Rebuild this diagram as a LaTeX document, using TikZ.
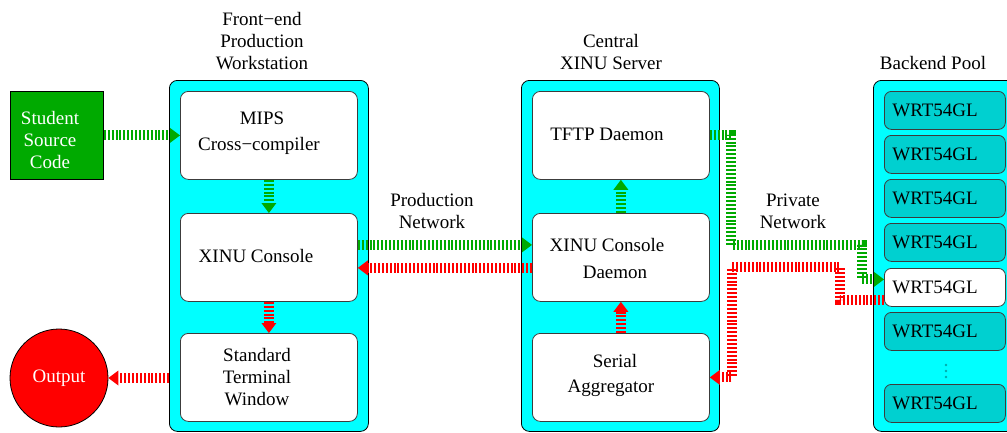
\documentclass[tikz,border=0pt]{standalone}
\usepackage{fontspec}
\setmainfont{Liberation Serif}
\usetikzlibrary{arrows.meta,calc}
\definecolor{fgreen}{RGB}{0,170,0}
\definecolor{brightcyan}{RGB}{0,255,255}
\definecolor{wrtcyan}{RGB}{0,208,208}
\definecolor{dotcyan}{RGB}{0,170,170}
\definecolor{boxedge}{RGB}{60,60,60}
\definecolor{pured}{RGB}{255,0,0}
\begin{document}
\begin{tikzpicture}[x=1pt,y=-1pt,
  container/.style={draw=black, line width=0.8pt, fill=brightcyan, rounded corners=8pt, anchor=north west, inner sep=0pt},
  inbox/.style={draw=boxedge, line width=0.8pt, fill=white, rounded corners=8pt, anchor=north west, inner sep=0pt, minimum width=177pt, minimum height=88pt},
  wrt/.style={draw=boxedge, line width=0.8pt, fill=wrtcyan, rounded corners=7pt, anchor=north west, minimum height=38pt, text width=105pt, inner xsep=8pt, inner ysep=0pt, align=left, font=\fontsize{19}{22}\selectfont},
  lbl/.style={font=\fontsize{19}{22}\selectfont, align=center, inner sep=0pt},
  flow/.style={line width=10pt, dash pattern=on 2pt off 1.9pt, -{Triangle[length=10pt,width=15pt,line width=0pt]}},
  gflow/.style={flow, draw=fgreen},
  rflow/.style={flow, draw=pured}]
\useasboundingbox (0,0) rectangle (1007,432);
\clip (0,0) rectangle (1007,432);

% containers
\node[container, minimum width=199pt, minimum height=351pt] (lc) at (169,80) {};
\node[container, minimum width=198pt, minimum height=351pt] (mc) at (521,80) {};
\node[container, minimum width=150pt, minimum height=351pt] (rc) at (873,80) {};

% left inner boxes
\node[inbox] (mips) at (180,91) {};
\node[inbox] (xcon) at (180,213) {};
\node[inbox] (term) at (180,333) {};
% middle inner boxes
\node[inbox] (tftp) at (532,91) {};
\node[inbox] (daemon) at (532,213) {};
\node[inbox] (serial) at (532,333) {};

% backend pool
\node[wrt] (w1) at (884,91) {WRT54GL};
\node[wrt] (w2) at (884,135) {WRT54GL};
\node[wrt] (w3) at (884,179) {WRT54GL};
\node[wrt] (w4) at (884,223) {WRT54GL};
\node[wrt, fill=white] (ww) at (884,268) {WRT54GL};
\node[wrt] (w6) at (884,312) {WRT54GL};
\node[wrt] (w7) at (884,384) {WRT54GL};
\fill[dotcyan] (946,365) circle (1.4) (946,371) circle (1.4) (946,377) circle (1.4);

% student and output
\node[draw=black, line width=0.8pt, fill=fgreen, anchor=north west, minimum width=93pt, minimum height=88pt, inner sep=0pt] (student) at (10,91) {};
\node[lbl, text=white] (studentT) at (50,140) {Student\\Source\\Code};
\node[draw=black, line width=0.8pt, fill=pured, circle, minimum size=98pt, inner sep=0pt, text=white, font=\fontsize{19}{22}\selectfont] (output) at (59,378) {Output};

% titles
\node[lbl] (t1) at (262,41) {Front−end\\Production\\Workstation};
\node[lbl] (t2) at (611,52) {Central\\XINU Server};
\node[lbl] (t3) at (933,63) {Backend Pool};
\node[lbl] (t4) at (432,211) {Production\\Network};
\node[lbl] (t5) at (793,211) {Private\\Network};

% box texts
\node[lbl] (mipsA) at (262,118) {MIPS};
\node[lbl] (mipsB) at (259,146) {Cross−compiler};
\node[lbl] (xconT) at (256,256) {XINU Console};
\node[lbl] (termT) at (257,377) {Standard\\Terminal\\Window};
\node[lbl] (tftpT) at (607,134) {TFTP Daemon};
\node[lbl] (daemonA) at (607,245) {XINU Console};
\node[lbl] (daemonB) at (615,272) {Daemon};
\node[lbl] (serialA) at (615,361) {Serial};
\node[lbl] (serialB) at (611,388) {Aggregator};

% flows
\draw[gflow] (student.east) -- (mips.west);
\draw[gflow] (mips.south) -- (xcon.north);
\draw[gflow] ([yshift=12.5pt]xcon.east) -- ([yshift=12.5pt]daemon.west);
\draw[rflow] ([yshift=-10.5pt]daemon.west) -- ([yshift=-10.5pt]xcon.east);
\draw[rflow] (xcon.south) -- (term.north);
\draw[rflow] (lc.west |- output) -- (output.east);
\draw[gflow] (daemon.north) -- (tftp.south);
\draw[rflow] (serial.north) -- (daemon.south);

\coordinate (g1) at (731,245);
\coordinate (g2) at (862,245);
\draw[gflow] (tftp.east) -| (g1) -- (g2) |- ([yshift=8pt]ww.west);
\coordinate (r1) at (840,267);
\coordinate (r2) at (732,267);
\draw[rflow] ([yshift=-13pt]ww.west) -| (r1) -- (r2) |- (serial.east);
\end{tikzpicture}
\end{document}
